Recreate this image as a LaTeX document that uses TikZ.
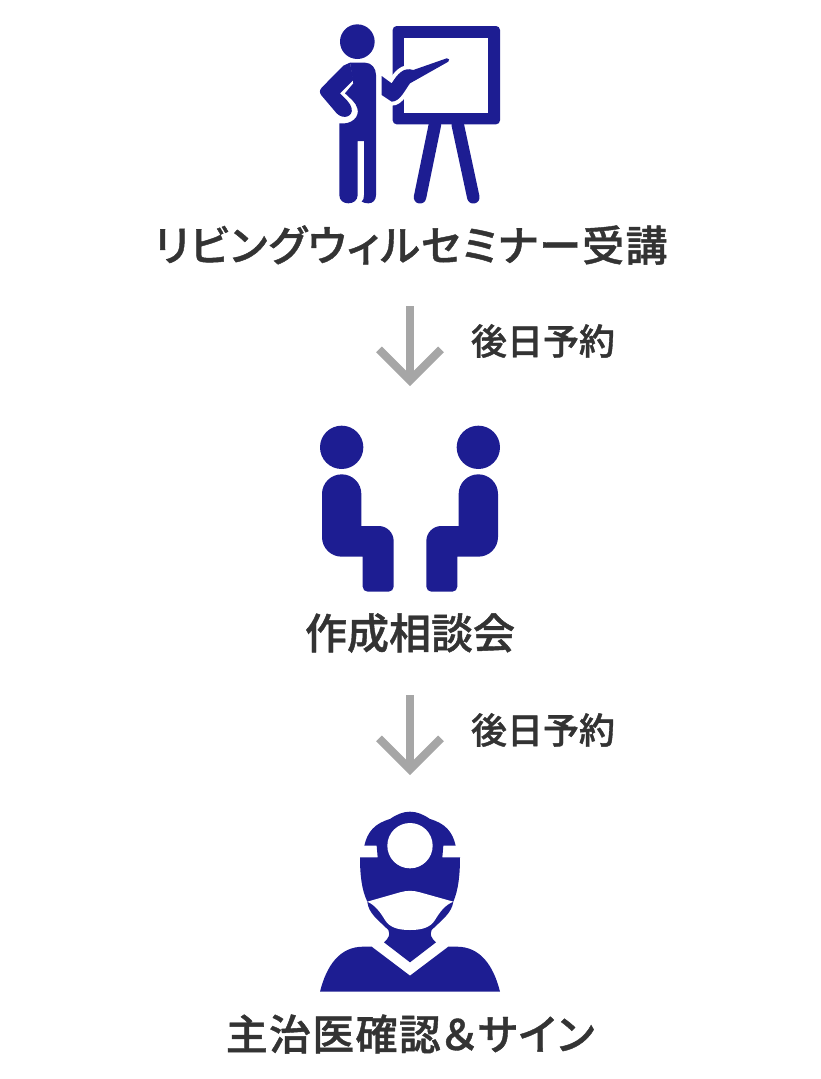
\documentclass[tikz,border=0pt]{standalone}
\usepackage{fontspec}
\newfontfamily\cjk[RawFeature=+palt,FakeBold=1]{Noto Sans CJK JP Medium}
\newfontfamily\cjkwide[RawFeature=+palt,FakeBold=1,LetterSpace=3]{Noto Sans CJK JP Medium}
\usetikzlibrary{arrows.meta}
\definecolor{iconblue}{HTML}{1D1D92}
\definecolor{labelgrey}{HTML}{333333}
\definecolor{arrowgrey}{HTML}{A6A6A6}
\tikzset{
  steplabel/.style={inner sep=0pt,text=labelgrey,font=\cjk\fontsize{42}{50}\selectfont},
  widelabel/.style={inner sep=0pt,text=labelgrey,font=\cjkwide\fontsize{42}{50}\selectfont},
  waylabel/.style={inner sep=0pt,text=labelgrey,font=\cjk\fontsize{36}{44}\selectfont},
  flowarrow/.style={draw=arrowgrey,line width=8pt,-{Straight Barb[length=31pt,width=62pt,line width=8pt]}},
}
\begin{document}
\begin{tikzpicture}[x=1pt,y=-1pt]
  \useasboundingbox (0,0) rectangle (820,1079);
  % trainer and board
  \begin{scope}[shift={(310,15)},scale=1/3]
    \fill[iconblue,rounded corners=4pt] (248,33) rectangle (570,328);
    \fill[white] (283,68) rectangle (535,293);
    \draw[iconblue,line width=12.5pt,line cap=round] (375,328) -- (330,547);
    \draw[iconblue,line width=12.5pt,line cap=round] (443,328) -- (490,547);
    \fill[iconblue] (142,80) circle (52);
    \filldraw[iconblue,draw=white,line width=8pt] (215,183) -- (245,205) .. controls (262,178) and (280,155) .. (310,165) -- (410,130) .. controls (418,128) and (420,136) .. (415,140) -- (300,205) .. controls (285,225) and (270,260) .. (245,260) -- (215,240) -- cycle;
    \fill[iconblue] (215,183) -- (245,205) .. controls (262,178) and (280,155) .. (310,165) -- (410,130) .. controls (418,128) and (420,136) .. (415,140) -- (300,205) .. controls (285,225) and (270,260) .. (245,260) -- (215,240) -- cycle;
    \fill[iconblue] (120,143) -- (165,143) .. controls (185,143) and (198,160) .. (198,180) -- (198,540) .. controls (198,556) and (188,565) .. (175,565) .. controls (168,565) and (160,563) .. (155,560) .. controls (160,555) and (162,550) .. (162,540) -- (162,378) -- (143,378) -- (143,540) .. controls (143,556) and (130,565) .. (115,565) .. controls (100,565) and (88,556) .. (88,540) -- (88,325) .. controls (125,330) and (150,305) .. (142,280) .. controls (138,262) and (118,248) .. (105,235) -- (130,205) -- cycle;
    \fill[iconblue] (120,143) -- (100,152) -- (35,218) .. controls (28,226) and (28,234) .. (35,242) -- (80,295) .. controls (100,315) and (130,305) .. (125,280) .. controls (122,265) and (105,250) .. (90,235) -- (130,195) -- cycle;
  \end{scope}
  \node[widelabel] (seminar) at (411,245) {リビングウィルセミナー受講};
  \coordinate (arrowatop) at (410,306);
  \coordinate (arrowaend) at (410,386);
  \draw[flowarrow] (arrowatop) -- (arrowaend);
  \node[waylabel] (booka) at (543,341) {後日予約};
  % two seated people
  \foreach \flip/\xpos in {1/0,-1/600}{
    \begin{scope}[shift={(310+\xpos/3,415)},xscale=\flip/3,yscale=1/3]
      \fill[iconblue] (95,97) circle (65);
      \fill[iconblue] (36,300) [rounded corners=19.6pt] -- (36,178) -- (154,178) [sharp corners] -- (154,333) [rounded corners=15pt] -- (251,333) [rounded corners=5pt] -- (251,530) -- (158,530) [sharp corners] -- (158,425) [rounded corners=19.6pt] -- (36,425) -- cycle;
    \end{scope}
  }
  \node[steplabel] (meeting) at (410,633) {作成相談会};
  \coordinate (arrowbtop) at (410,695);
  \coordinate (arrowbend) at (410,775);
  \draw[flowarrow] (arrowbtop) -- (arrowbend);
  \node[waylabel] (bookb) at (543,730) {後日予約};
  % doctor
  \begin{scope}[shift={(310,805)},scale=1/3]
    \fill[iconblue] (163,122) .. controls (172,80) and (195,55) .. (240,42) .. controls (260,28) and (280,20) .. (300,20) .. controls (320,20) and (340,28) .. (360,42) .. controls (405,55) and (428,80) .. (437,122) -- (400,122) -- (397,157) -- (450,157) .. controls (450,210) and (445,255) .. (430,290) .. controls (425,325) and (395,345) .. (365,375) .. controls (358,390) and (365,400) .. (378,412) -- (300,472) -- (222,412) .. controls (235,400) and (242,390) .. (235,375) .. controls (205,345) and (175,325) .. (172,290) .. controls (155,255) and (150,210) .. (150,157) -- (203,157) -- (200,122) -- cycle;
    \fill[white] (300,122) circle (68);
    \fill[white] (172,290) -- (270,262) .. controls (290,256) and (310,256) .. (330,262) -- (430,290) .. controls (405,300) and (390,320) .. (375,345) .. controls (360,370) and (330,375) .. (300,375) .. controls (270,375) and (240,370) .. (225,345) .. controls (210,320) and (195,300) .. (172,290) -- cycle;
    \fill[iconblue] (30,560) .. controls (50,480) and (90,425) .. (160,425) -- (185,425) -- (300,512) -- (415,425) -- (440,425) .. controls (510,425) and (550,480) .. (570,560) -- cycle;
  \end{scope}
  \node[widelabel] (signing) at (410,1034) {主治医確認＆サイン};
\end{tikzpicture}
\end{document}
